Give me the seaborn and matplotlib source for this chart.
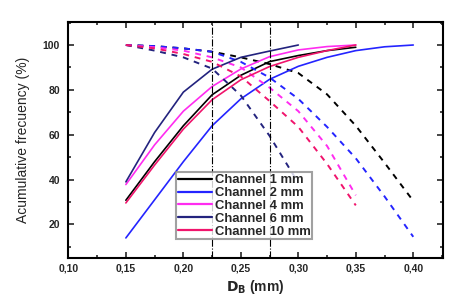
import numpy as np
import pandas as pd
import matplotlib
matplotlib.use("Agg")
import matplotlib.pyplot as plt
from matplotlib.ticker import FuncFormatter, MultipleLocator
import seaborn as sns

# --- data ---
x_030 = [0.15, 0.175, 0.20, 0.225, 0.25, 0.275, 0.30]
x_035 = [0.15, 0.175, 0.20, 0.225, 0.25, 0.275, 0.30, 0.325, 0.35]
x_040 = [0.15, 0.175, 0.20, 0.225, 0.25, 0.275, 0.30, 0.325, 0.35, 0.375, 0.40]

# cumulative (undersize) curves, solid
ch1_up = [30.8, 48, 64, 77.8, 86.5, 92.6, 95.3, 97.5, 99]
ch2_up = [14, 31, 48, 64, 76, 84.7, 90.5, 94.5, 97.5, 99.2, 100]
ch4_up = [37.8, 55.5, 70.5, 81.5, 89.3, 94.8, 97.8, 99.3, 100]
ch6_up = [39, 61, 79, 89.2, 94.5, 97.3, 100]
ch10_up = [29.6, 46.5, 62.5, 75.6, 84.5, 90.4, 94.5, 97.5, 100]

# oversize curves, dashed
ch1_down = [100, 99.5, 98.5, 97, 94.5, 91.5, 87.5, 78, 64, 47.5, 30.5]
ch2_down = [100, 99.5, 98.5, 97, 92.5, 85.5, 76, 63.5, 49.5, 32.5, 14.5]
ch4_down = [100, 99, 97.5, 94.5, 90, 81, 70.5, 55, 33]
ch6_down = [100, 97.5, 94.5, 89.5, 77.5, 59.5, 38.5]
ch10_down = [100, 98.5, 96, 92.5, 86, 75, 63.5, 47, 28.5]

labels = ["Channel 1 mm", "Channel 2 mm", "Channel 4 mm", "Channel 6 mm", "Channel 10 mm"]
colors = ["#000000", "#2424ff", "#ff2cf0", "#23237e", "#f0146c"]
xs_up = [x_035, x_040, x_035, x_030, x_035]
xs_down = [x_040, x_040, x_035, x_030, x_035]
ups = [ch1_up, ch2_up, ch4_up, ch6_up, ch10_up]
downs = [ch1_down, ch2_down, ch4_down, ch6_down, ch10_down]
vlines = [0.225, 0.275]

sns.set_theme(style="ticks")
plt.rcParams['font.family'] = ['Liberation Sans', 'DejaVu Sans']

fig, ax = plt.subplots(figsize=(4.59, 2.95), dpi=100)
fig.subplots_adjust(left=0.149, right=0.9645, top=0.925, bottom=0.125)

for lab, col, xu, xd, up, dn in zip(labels, colors, xs_up, xs_down, ups, downs):
    sns.lineplot(x=xu, y=up, ax=ax, color=col, linewidth=1.2, label=lab)
    sns.lineplot(x=xd, y=dn, ax=ax, color=col, linewidth=1.4,
                 linestyle=(0, (3, 3)), legend=False)

for v in vlines:
    ax.axvline(v, color="black", linewidth=0.8, linestyle="-.")

ax.set_xlim(0.10, 0.4256)
ax.set_ylim(5, 110.2)
ax.xaxis.set_major_locator(MultipleLocator(0.05))
ax.xaxis.set_minor_locator(MultipleLocator(0.025))
ax.yaxis.set_major_locator(MultipleLocator(20))
ax.yaxis.set_minor_locator(MultipleLocator(10))
ax.xaxis.set_major_formatter(FuncFormatter(lambda v, p: f"{v:.2f}".replace('.', ',')))
ax.yaxis.set_major_formatter(FuncFormatter(lambda v, p: f"{v:.0f}"))
ax.tick_params(which="both", direction="in", top=True, right=True, width=1.2)
ax.tick_params(which="major", length=4, labelsize=7.5)
ax.tick_params(axis="x", which="major", pad=4)
ax.tick_params(axis="y", which="major", pad=6)
ax.tick_params(which="minor", length=2.5)
for t in ax.get_xticklabels() + ax.get_yticklabels():
    t.set_fontweight("bold")
for s in ax.spines.values():
    s.set_linewidth(1.5)
    s.set_color("black")

ax.set_xlabel(r"$\mathbf{D_B}$ (mm)", fontsize=10, fontweight="bold", labelpad=3)
ax.set_ylabel("Acumulative frecuency (%)", fontsize=10, labelpad=9)

leg = ax.legend(loc="lower left", bbox_to_anchor=(0.288, 0.079),
                frameon=True, fancybox=False, borderaxespad=0, handlelength=2.6,
                handletextpad=0.2, labelspacing=0.05, borderpad=0.15,
                prop={"weight": "bold", "size": 9.4})
leg.get_frame().set_edgecolor("#8a8a8a")
leg.get_frame().set_linewidth(1.5)
for h in leg.get_lines():
    h.set_linewidth(1.6)

fig.savefig("out.png", dpi=100)
